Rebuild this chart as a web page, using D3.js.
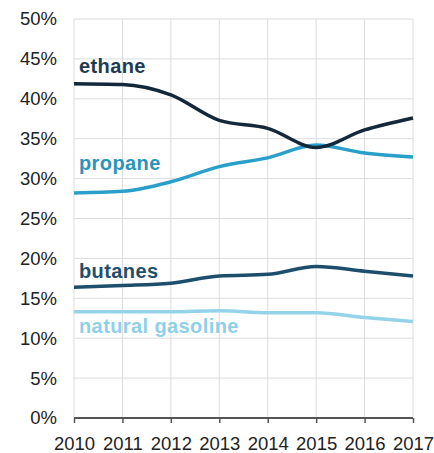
<!DOCTYPE html>
<html><head><meta charset="utf-8">
<script src="https://cdn.jsdelivr.net/npm/d3@7"></script>
<style>body{margin:0;background:#fff;}svg{display:block;}</style>
</head><body>
<svg id="c" width="434" height="453"></svg>
<script>
const years = [2010, 2011, 2012, 2013, 2014, 2015, 2016, 2017];
const ethane = [41.9, 41.8, 40.5, 37.3, 36.3, 33.9, 36.1, 37.6];
const propane = [28.2, 28.4, 29.6, 31.5, 32.6, 34.2, 33.2, 32.7];
const butanes = [16.4, 16.6, 16.9, 17.8, 18.0, 19.0, 18.4, 17.8];
const naturalGasoline = [13.3, 13.3, 13.3, 13.45, 13.2, 13.2, 12.6, 12.1];
const yTicks = [0, 5, 10, 15, 20, 25, 30, 35, 40, 45, 50];
const seriesNames = ["ethane", "propane", "butanes", "natural gasoline"];
const seriesColors = ["#13283a", "#2b9fcb", "#1d4f6d", "#95d3eb"];
const labelColors = ["#1f3b52", "#2b94bd", "#1f4f6c", "#8fd0e9"];
const labelAnchor = [43.2, 31.1, 17.5, 10.65]; // label baseline value (%)

const svg = d3.select("#c");
const x = d3.scalePoint().domain(years).range([74, 413]);
const y = d3.scaleLinear().domain([0, 50]).range([418, 19]);

// grid
svg.append("g").selectAll("line.h").data(yTicks.filter(d => d > 0)).join("line")
  .attr("x1", 74).attr("x2", 413).attr("y1", d => y(d)).attr("y2", d => y(d))
  .attr("stroke", "#dcdcdc").attr("stroke-width", 1);
svg.append("g").selectAll("line.v").data(years).join("line")
  .attr("x1", d => x(d)).attr("x2", d => x(d)).attr("y1", y(50)).attr("y2", y(0))
  .attr("stroke", "#dcdcdc").attr("stroke-width", 1);

// y labels
svg.append("g").selectAll("text").data(yTicks).join("text")
  .attr("x", 57).attr("y", d => y(d)).attr("dy", "0.35em")
  .attr("text-anchor", "end")
  .attr("font-family", "Liberation Sans, Arial, sans-serif").attr("font-size", 18.5)
  .attr("fill", "#222").text(d => d + "%");

// x axis
const xAxis = d3.axisBottom(x).tickSize(5).tickPadding(14);
const gx = svg.append("g").attr("transform", `translate(0,${y(0)})`).call(xAxis);
gx.select(".domain").attr("stroke", "#555").attr("stroke-width", 2).attr("d", `M74,0H413`);
gx.selectAll(".tick line").attr("stroke", "#555").attr("stroke-width", 1.5);
gx.selectAll(".tick text").attr("font-family", "Liberation Sans, Arial, sans-serif")
  .attr("font-size", 18.5).attr("fill", "#222");

// lines
const data = [ethane, propane, butanes, naturalGasoline];
const line = d3.line().x((d, i) => x(years[i])).y(d => y(d)).curve(d3.curveMonotoneX);
[3, 2, 1, 0].forEach(k => {
  svg.append("path").datum(data[k]).attr("d", line)
    .attr("fill", "none").attr("stroke", seriesColors[k]).attr("stroke-width", 3.5)
    .attr("stroke-linejoin", "round");
});

// labels
svg.append("g").selectAll("text").data(seriesNames).join("text")
  .attr("x", 79).attr("y", (d, i) => y(labelAnchor[i]))
  .attr("font-family", "'Liberation Sans', Arial, sans-serif")
  .attr("font-weight", "bold").attr("font-size", 20).attr("letter-spacing", 0.4)
  .attr("fill", (d, i) => labelColors[i]).text(d => d);
</script>
</body></html>
